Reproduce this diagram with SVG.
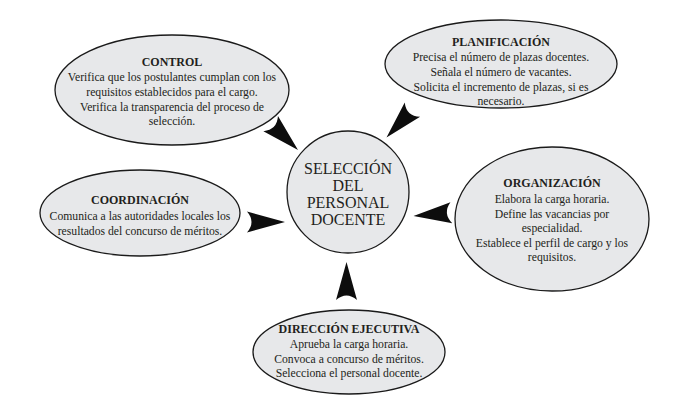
<svg xmlns="http://www.w3.org/2000/svg" width="700" height="412" viewBox="0 0 700 412">
<style>
.bub{fill:#e7e8ea;stroke:#1a1a1a;stroke-width:1.3}
.t{font-family:"Liberation Serif","DejaVu Serif",serif;font-size:11.7px;fill:#231f20;text-anchor:middle}
.h{font-weight:bold;font-size:12px}
.c{font-family:"Liberation Serif","DejaVu Serif",serif;font-size:16px;fill:#231f20;text-anchor:middle}
.w{fill:#0d0d0d}
</style>
<defs>
<path id="wedge" d="M0,0 L-38,-10.5 Q-29,0 -38,10.5 Z"/>
</defs>
<rect width="700" height="412" fill="#fff"/>
<g id="connectors">
<use href="#wedge" class="w" transform="translate(298,150) rotate(44)"/>
<use href="#wedge" class="w" transform="translate(386.5,137.5) rotate(133)"/>
<use href="#wedge" class="w" transform="translate(285,222) rotate(0)"/>
<use href="#wedge" class="w" transform="translate(413.5,216) rotate(175)"/>
<use href="#wedge" class="w" transform="translate(346.5,262) rotate(-90)"/>
</g>
<g id="control">
<ellipse class="bub" cx="172" cy="90" rx="117" ry="55"/>
<text class="t h" x="172" y="66">CONTROL</text>
<text class="t" x="172" y="81">Verifica que los postulantes cumplan con los</text>
<text class="t" x="172" y="96">requisitos establecidos para el cargo.</text>
<text class="t" x="172" y="111">Verifica la transparencia del proceso de</text>
<text class="t" x="172" y="125">selección.</text>
</g>
<g id="planificacion">
<ellipse class="bub" cx="501" cy="64" rx="116" ry="44"/>
<text class="t h" x="501" y="46">PLANIFICACIÓN</text>
<text class="t" x="501" y="61">Precisa el número de plazas docentes.</text>
<text class="t" x="501" y="76">Señala el número de vacantes.</text>
<text class="t" x="501" y="91">Solicita el incremento de plazas, si es</text>
<text class="t" x="501" y="105">necesario.</text>
</g>
<g id="seleccion">
<circle class="bub" cx="348" cy="192" r="61"/>
<text class="c" x="348" y="174">SELECCIÓN</text>
<text class="c" x="348" y="191">DEL</text>
<text class="c" x="348" y="208">PERSONAL</text>
<text class="c" x="348" y="225">DOCENTE</text>
</g>
<g id="coordinacion">
<ellipse class="bub" cx="140" cy="213" rx="100" ry="43"/>
<text class="t h" x="140" y="204">COORDINACIÓN</text>
<text class="t" x="140" y="220">Comunica a las autoridades locales los</text>
<text class="t" x="140" y="235">resultados del concurso de méritos.</text>
</g>
<g id="organizacion">
<ellipse class="bub" cx="552" cy="219" rx="97" ry="72"/>
<text class="t h" x="552" y="187">ORGANIZACIÓN</text>
<text class="t" x="552" y="203">Elabora la carga horaria.</text>
<text class="t" x="552" y="218">Define las vacancias por</text>
<text class="t" x="552" y="232">especialidad.</text>
<text class="t" x="552" y="247">Establece el perfil de cargo y los</text>
<text class="t" x="552" y="261">requisitos.</text>
</g>
<g id="direccion">
<ellipse class="bub" cx="349" cy="352" rx="96" ry="42"/>
<text class="t h" x="349" y="333">DIRECCIÓN EJECUTIVA</text>
<text class="t" x="349" y="348">Aprueba la carga horaria.</text>
<text class="t" x="349" y="363">Convoca a concurso de méritos.</text>
<text class="t" x="349" y="377">Selecciona el personal docente.</text>
</g>
</svg>
